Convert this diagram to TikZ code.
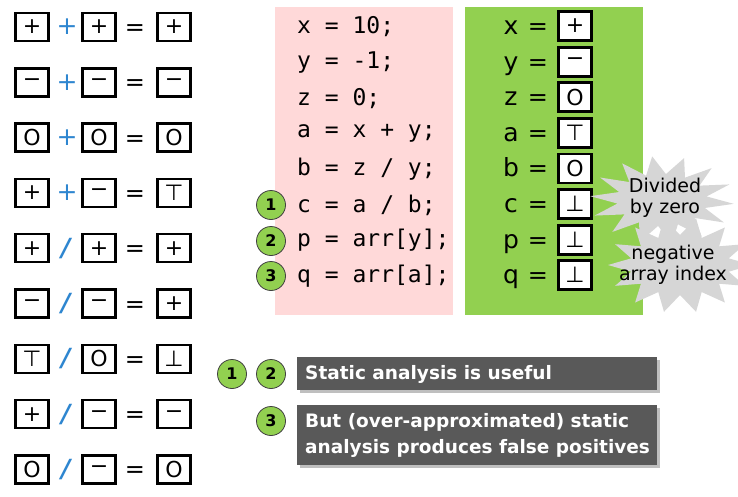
\documentclass[tikz,border=0pt]{standalone}
\usepackage{fontspec}
\setmainfont{Liberation Sans}
\newfontfamily\codefont{DejaVu Sans Mono}
\newfontfamily\symfont{DejaVu Sans}
\newfontfamily\notefont{DejaVu Sans}
\definecolor{pinkbg}{HTML}{FFD9D9}
\definecolor{greenbg}{HTML}{92D050}
\definecolor{opblue}{HTML}{2E86D0}
\definecolor{darkbox}{HTML}{595959}
\definecolor{starfill}{HTML}{D6D6D6}
\begin{document}
\begin{tikzpicture}[x=1pt,y=-1pt,
  abox/.style={draw=black,line width=2.4pt,fill=white,minimum width=33pt,minimum height=28pt,inner sep=0pt,font=\fontsize{22}{22}\symfont},
  opsym/.style={text=opblue,font=\fontsize{25}{25}\symfont,inner sep=0pt},
  eqsym/.style={anchor=base,font=\fontsize{24}{24}\symfont,inner sep=0pt},
  codeline/.style={anchor=west,inner sep=0pt,font=\fontsize{23}{24}\codefont},
  varname/.style={inner sep=0pt,anchor=base,font=\fontsize{25}{25}\symfont},
  numcirc/.style={circle,draw=black!75,line width=0.8pt,fill=greenbg,minimum size=29pt,inner sep=0pt,font=\fontsize{16}{16}\bfseries\symfont},
  darkpanel/.style={fill=darkbox},
  whitetext/.style={text=white,anchor=west,inner sep=0pt,align=left,font=\fontsize{18.5}{26}\bfseries\notefont},
  startext/.style={inner sep=0pt,align=center,font=\fontsize{19}{21}\notefont}
]
\useasboundingbox (0,0) rectangle (738,496);
\fill[white] (0,0) rectangle (738,496);

% left column: abstract arithmetic
\foreach \i/\a/\b/\r in {0/+/+/+, 1/−/−/−, 2/O/O/O, 3/+/−/⊤}{
  \pgfmathsetmacro{\yy}{27+55.3*\i}
  \node[abox] (l\i a) at (32,\yy) {\a};
  \node[opsym] (l\i o) at (67,\yy) {+};
  \node[abox] (l\i b) at (99,\yy) {\b};
  \node[eqsym] (l\i e) at (135,\yy+8.5) {=};
  \node[abox] (l\i r) at (174,\yy) {\r};
}
\foreach \i/\a/\b/\r in {4/+/+/+, 5/−/−/+, 6/⊤/O/⊥, 7/+/−/−, 8/O/−/O}{
  \pgfmathsetmacro{\yy}{27+55.3*\i}
  \node[abox] (l\i a) at (32,\yy) {\a};
  \node[opsym,font=\fontsize{25}{25}\bfseries\itshape\symfont] (l\i o) at (66,\yy) {/};
  \node[abox] (l\i b) at (99,\yy) {\b};
  \node[eqsym] (l\i e) at (135,\yy+8.5) {=};
  \node[abox] (l\i r) at (174,\yy) {\r};
}

% panels
\fill[pinkbg] (275,7) rectangle (453,315);
\fill[greenbg] (465,7) rectangle (643,315);

% code
\foreach \i/\t in {0/{x = 10;}, 1/{y = -1;}, 2/{z = 0;}, 3/{a = x + y;}, 4/{b = z / y;}, 5/{c = a / b;}, 6/{p = arr[y];}, 7/{q = arr[a];}}{
  \pgfmathsetmacro{\yy}{27+35.6*\i}
  \node[codeline] (c\i) at (297,\yy) {\t};
}
\node[numcirc] (n1) at (271,205) {1};
\node[numcirc] (n2) at (271,241) {2};
\node[numcirc] (n3) at (271,276) {3};

% abstract values
\foreach \i/\v/\s in {0/x/+, 1/y/−, 2/z/O, 3/a/⊤, 4/b/O, 5/c/⊥, 6/p/⊥, 7/q/⊥}{
  \pgfmathsetmacro{\yy}{26+35.6*\i}
  \node[varname] (v\i) at (511,\yy+8.5) {\v};
  \node[eqsym] (e\i) at (538,\yy+8.5) {=};
  \node[abox,line width=2.8pt,minimum height=29pt] (s\i) at (575,\yy) {\s};
}

% starbursts
\fill[starfill] plot[samples at={0,...,27}] ({662+ifthenelse(mod(\x,2)==0,72,45)*cos(\x*360/28+5)},{200+ifthenelse(mod(\x,2)==0,44,26)*sin(\x*360/28+5)}) -- cycle;
\fill[starfill] plot[samples at={0,...,27}] ({680+ifthenelse(mod(\x,2)==0,72,50)*cos(\x*360/28)},{265+ifthenelse(mod(\x,2)==0,48,30)*sin(\x*360/28)}) -- cycle;
\node[startext] (st1) at (665,198) {Divided\\by zero};
\node[startext] (st2) at (673,265) {negative\\array index};

% bottom notes
\node[numcirc] (b1) at (232,374) {1};
\node[numcirc] (b2) at (271,374) {2};
\node[numcirc] (b3) at (271,421) {3};
\fill[black!25] (300,360) rectangle (660,393);
\fill[darkpanel] (297,357) rectangle (657,390);
\fill[black!25] (300,408) rectangle (660,468);
\fill[darkpanel] (297,405) rectangle (657,465);
\node[whitetext] (t1) at (305,374) {Static analysis is useful};
\node[whitetext] (t2) at (305,435) {But (over-approximated) static\\analysis produces false positives};
\end{tikzpicture}
\end{document}
